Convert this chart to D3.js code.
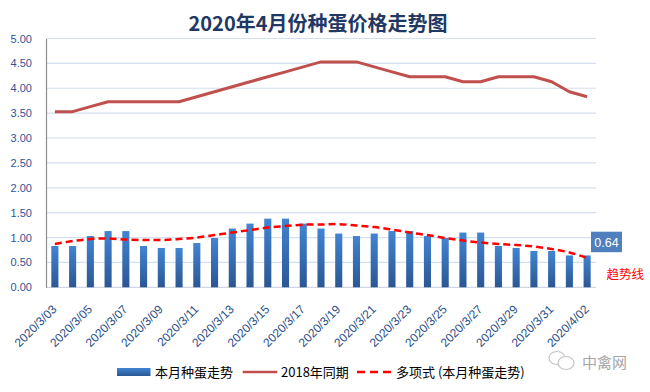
<!DOCTYPE html>
<html>
<head>
<meta charset="utf-8">
<script src="https://cdn.jsdelivr.net/npm/d3@7"></script>
<style>
  html, body { margin: 0; padding: 0; background: #ffffff; }
  svg { display: block; }
</style>
</head>
<body>
<svg id="chart" width="650" height="392"></svg>
<script>
// ---------------- data ----------------
const dates = ["2020/3/03","2020/3/04","2020/3/05","2020/3/06","2020/3/07","2020/3/08","2020/3/09","2020/3/10",
  "2020/3/11","2020/3/12","2020/3/13","2020/3/14","2020/3/15","2020/3/16","2020/3/17","2020/3/18","2020/3/19",
  "2020/3/20","2020/3/21","2020/3/22","2020/3/23","2020/3/24","2020/3/25","2020/3/26","2020/3/27","2020/3/28",
  "2020/3/29","2020/3/30","2020/3/31","2020/4/01","2020/4/02"];
const tickLabels = ["2020/3/03","2020/3/05","2020/3/07","2020/3/09","2020/3/11","2020/3/13","2020/3/15","2020/3/17",
  "2020/3/19","2020/3/21","2020/3/23","2020/3/25","2020/3/27","2020/3/29","2020/3/31","2020/4/02"];
const thisMonth = [0.83,0.83,1.03,1.13,1.13,0.83,0.79,0.79,0.89,0.99,1.18,1.28,1.38,1.38,1.28,1.18,1.08,
  1.03,1.08,1.13,1.13,1.03,0.99,1.10,1.10,0.83,0.79,0.73,0.73,0.64,0.64];
const sameTerm2018 = [3.53,3.53,3.63,3.73,3.73,3.73,3.73,3.73,3.83,3.93,4.03,4.13,4.23,4.33,4.43,4.53,4.53,
  4.53,4.43,4.33,4.23,4.23,4.23,4.13,4.13,4.23,4.23,4.23,4.13,3.93,3.83];
const trendValues = [0.87,0.93,0.97,0.98,0.96,0.95,0.95,0.97,1.00,1.05,1.10,1.15,1.20,1.23,1.26,1.26,1.27,
  1.24,1.21,1.16,1.10,1.05,0.99,0.94,0.90,0.87,0.85,0.82,0.77,0.70,0.59];
const yTicks = [0,0.5,1,1.5,2,2.5,3,3.5,4,4.5,5];
const title = "2020年4月份种蛋价格走势图";
const seriesNames = ["本月种蛋走势","2018年同期","多项式 (本月种蛋走势)"];
const lastLabel = "0.64";
const trendNote = "趋势线";
const watermark = "中禽网";

// ---------------- layout ----------------
const svg = d3.select("#chart");
const L = 46, R = 596, T = 38.5, B = 287.3;
const cjk = "'Noto Sans CJK SC', 'Noto Sans', sans-serif";
const latin = "'Liberation Sans', Arial, sans-serif";

const x = d3.scaleBand().domain(dates).range([L, R]).paddingInner(0.6).paddingOuter(0.3);
const y = d3.scaleLinear().domain([0, 5]).range([B, T]);
const cx = d => x(d) + x.bandwidth() / 2;

const defs = svg.append("defs");
const grad = defs.append("linearGradient").attr("id", "barGrad")
  .attr("x1", 0).attr("y1", 0).attr("x2", 0).attr("y2", 1);
grad.append("stop").attr("offset", "0%").attr("stop-color", "#4284d3");
grad.append("stop").attr("offset", "100%").attr("stop-color", "#2b5793");

// title
svg.append("text").attr("x", 318).attr("y", 31).attr("text-anchor", "middle")
  .attr("font-family", cjk).attr("font-weight", "bold").attr("font-size", 20)
  .attr("fill", "#1f3864").text(title);

// gridlines
svg.append("g").selectAll("line").data(yTicks).join("line")
  .attr("x1", L).attr("x2", R).attr("y1", d => y(d)).attr("y2", d => y(d))
  .attr("stroke", d => d === 0 ? "#d0d7e2" : "#d3dfee").attr("stroke-width", 1.2);

// y axis
const yAxis = d3.axisLeft(y).tickValues(yTicks).tickFormat(d3.format(".2f")).tickSize(0).tickPadding(14);
const yg = svg.append("g").attr("transform", `translate(${L},0)`).call(yAxis);
yg.select(".domain").attr("stroke", "#8c8c8c").attr("stroke-width", 1.2);
yg.selectAll("text").attr("font-family", latin).attr("font-size", 11).attr("fill", "#2f5496");

// x axis labels
const xg = svg.append("g");
xg.selectAll("text").data(tickLabels).join("text")
  .attr("transform", d => `translate(${cx(d) + 2.5},${310}) rotate(-45)`)
  .attr("text-anchor", "end").attr("font-family", latin).attr("font-size", 12)
  .attr("fill", "#2b4f86").text(d => d);

// bars
svg.append("g").selectAll("rect").data(thisMonth).join("rect")
  .attr("x", (d, i) => x(dates[i])).attr("width", x.bandwidth())
  .attr("y", d => y(d)).attr("height", d => y(0) - y(d))
  .attr("fill", "url(#barGrad)");

// 2018 line
const line = d3.line().x((d, i) => cx(dates[i])).y(d => y(d));
svg.append("path").datum(sameTerm2018).attr("d", line)
  .attr("fill", "none").attr("stroke", "#c0504d").attr("stroke-width", 3)
  .attr("stroke-linejoin", "round");

// trend line
const tline = d3.line().x((d, i) => cx(dates[i])).y(d => y(d)).curve(d3.curveCatmullRom);
svg.append("path").datum(trendValues).attr("d", tline)
  .attr("fill", "none").attr("stroke", "#ff0000").attr("stroke-width", 2.5)
  .attr("stroke-dasharray", "7,4");

// data label
svg.append("rect").attr("x", 591).attr("y", 231.7).attr("width", 31).attr("height", 20.5)
  .attr("fill", "#4f7fbd");
svg.append("text").attr("x", 606.5).attr("y", 246.5).attr("text-anchor", "middle")
  .attr("font-family", latin).attr("font-size", 12.5).attr("fill", "#ffffff").text(lastLabel);

// trend note
svg.append("text").attr("x", 606.5).attr("y", 279).attr("font-family", cjk)
  .attr("font-size", 12.5).attr("fill", "#ff0000").text(trendNote);

// legend
const lg = svg.append("g");
lg.append("rect").attr("x", 117).attr("y", 368).attr("width", 33.5).attr("height", 8).attr("fill", "url(#barGrad)");
lg.append("text").attr("x", 155).attr("y", 377).attr("font-family", cjk).attr("font-size", 13)
  .attr("fill", "#000").text(seriesNames[0]);
lg.append("line").attr("x1", 242.7).attr("x2", 277.3).attr("y1", 372).attr("y2", 372)
  .attr("stroke", "#c0504d").attr("stroke-width", 2.5);
lg.append("text").attr("x", 281).attr("y", 377).attr("font-family", cjk).attr("font-size", 13)
  .attr("fill", "#000").text(seriesNames[1]);
lg.append("line").attr("x1", 357).attr("x2", 392).attr("y1", 372).attr("y2", 372)
  .attr("stroke", "#ff0000").attr("stroke-width", 2.5).attr("stroke-dasharray", "8,5");
lg.append("text").attr("x", 396).attr("y", 377).attr("font-family", cjk).attr("font-size", 13)
  .attr("fill", "#000").text(seriesNames[2]);

// watermark
const wm = svg.append("g").attr("fill", "none").attr("stroke", "#c4c4c4").attr("stroke-width", 1.2);
wm.append("ellipse").attr("cx", 557).attr("cy", 358).attr("rx", 8).attr("ry", 6.5);
wm.append("ellipse").attr("cx", 566).attr("cy", 363).attr("rx", 8).attr("ry", 6.5).attr("fill", "#fff");
svg.append("text").attr("x", 582).attr("y", 368).attr("font-family", cjk).attr("font-size", 15)
  .attr("fill", "#a6a6a6").text(watermark);
</script>
</body>
</html>
